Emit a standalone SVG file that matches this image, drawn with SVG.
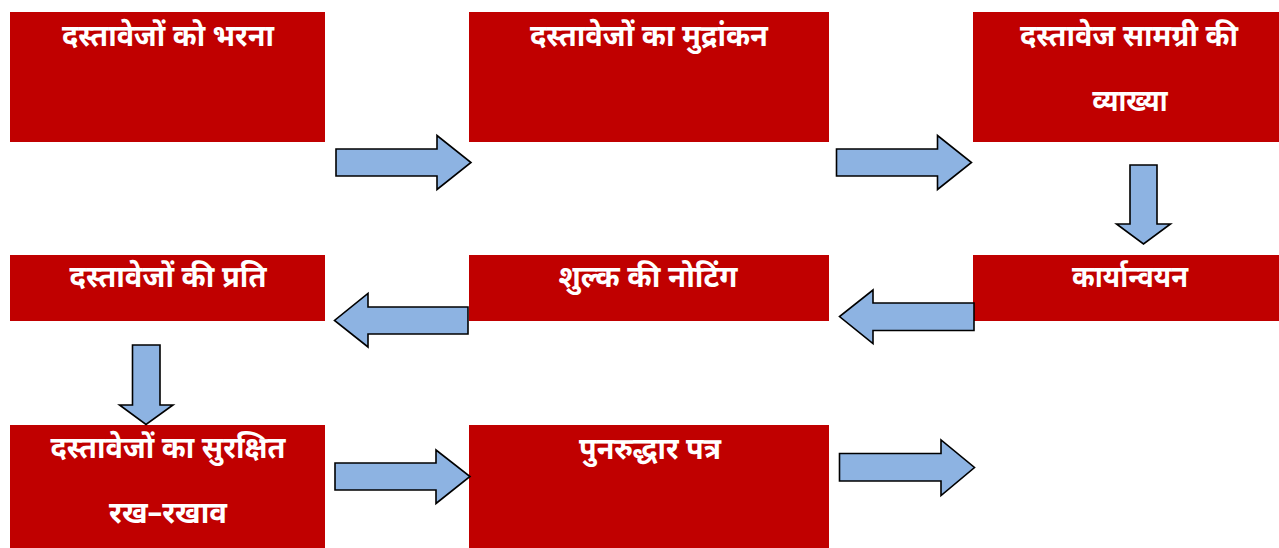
<svg xmlns="http://www.w3.org/2000/svg" width="1279" height="548" viewBox="0 0 1279 548">
<style>
.box{fill:#C00000;}
.lbl{fill:#FFFFFF;font-family:"Noto Sans Devanagari","Noto Sans","Lohit Devanagari",sans-serif;font-size:30px;font-weight:bold;text-anchor:middle;}
.arr{fill:#8DB3E2;stroke:#000000;stroke-width:1.6;stroke-linejoin:miter;}
</style>
<rect width="1279" height="548" fill="#FFFFFF"/>
<g id="n1"><rect class="box" x="10" y="12" width="315" height="130"/>
<text class="lbl" x="168" y="46" textLength="212" lengthAdjust="spacingAndGlyphs">दस्तावेजों को भरना</text></g>
<g id="n2"><rect class="box" x="469" y="12" width="360" height="130"/>
<text class="lbl" x="649" y="46" textLength="238" lengthAdjust="spacingAndGlyphs">दस्तावेजों का मुद्रांकन</text></g>
<g id="n3"><rect class="box" x="973" y="12" width="306" height="130"/>
<text class="lbl" x="1129" y="46" textLength="218" lengthAdjust="spacingAndGlyphs">दस्तावेज सामग्री की</text>
<text class="lbl" x="1130" y="111" textLength="75" lengthAdjust="spacingAndGlyphs">व्याख्या</text></g>
<g id="n4"><rect class="box" x="10" y="255" width="315" height="66"/>
<text class="lbl" x="168" y="287" textLength="197" lengthAdjust="spacingAndGlyphs">दस्तावेजों की प्रति</text></g>
<g id="n5"><rect class="box" x="469" y="255" width="360" height="66"/>
<text class="lbl" x="648" y="287" textLength="179" lengthAdjust="spacingAndGlyphs">शुल्क की नोटिंग</text></g>
<g id="n6"><rect class="box" x="973" y="255" width="306" height="66"/>
<text class="lbl" x="1130" y="287" textLength="116" lengthAdjust="spacingAndGlyphs">कार्यान्वयन</text></g>
<g id="n7"><rect class="box" x="10" y="425" width="315" height="123"/>
<text class="lbl" x="168" y="458" textLength="235" lengthAdjust="spacingAndGlyphs">दस्तावेजों का सुरक्षित</text>
<text class="lbl" x="168" y="523" textLength="118" lengthAdjust="spacingAndGlyphs">रख–रखाव</text></g>
<g id="n8"><rect class="box" x="469" y="425" width="360" height="123"/>
<text class="lbl" x="650" y="459" textLength="142" lengthAdjust="spacingAndGlyphs">पुनरुद्धार पत्र</text></g>
<g id="connectors">
<polygon class="arr" points="336,149 437,149 437,135.5 471,162.5 437,189.5 437,176 336,176"/>
<polygon class="arr" points="836.5,149 937.5,149 937.5,135.5 971.5,162.5 937.5,189.5 937.5,176 836.5,176"/>
<polygon class="arr" points="1130,165 1157,165 1157,224 1170.5,224 1143.5,244 1116.5,224 1130,224"/>
<polygon class="arr" points="974,303 873,303 873,290 839.5,316.5 873,343.5 873,330.5 974,330.5"/>
<polygon class="arr" points="468,307 368,307 368,293.5 334.5,320.5 368,347 368,334 468,334"/>
<polygon class="arr" points="132.5,345 160,345 160,405 173,405 146,424.5 119.5,405 132.5,405"/>
<polygon class="arr" points="335,463 436,463 436,450 470,476.5 436,503.5 436,490 335,490"/>
<polygon class="arr" points="839.5,453.5 941,453.5 941,440 974.5,467.5 941,495.5 941,481 839.5,481"/>
</g>
</svg>
